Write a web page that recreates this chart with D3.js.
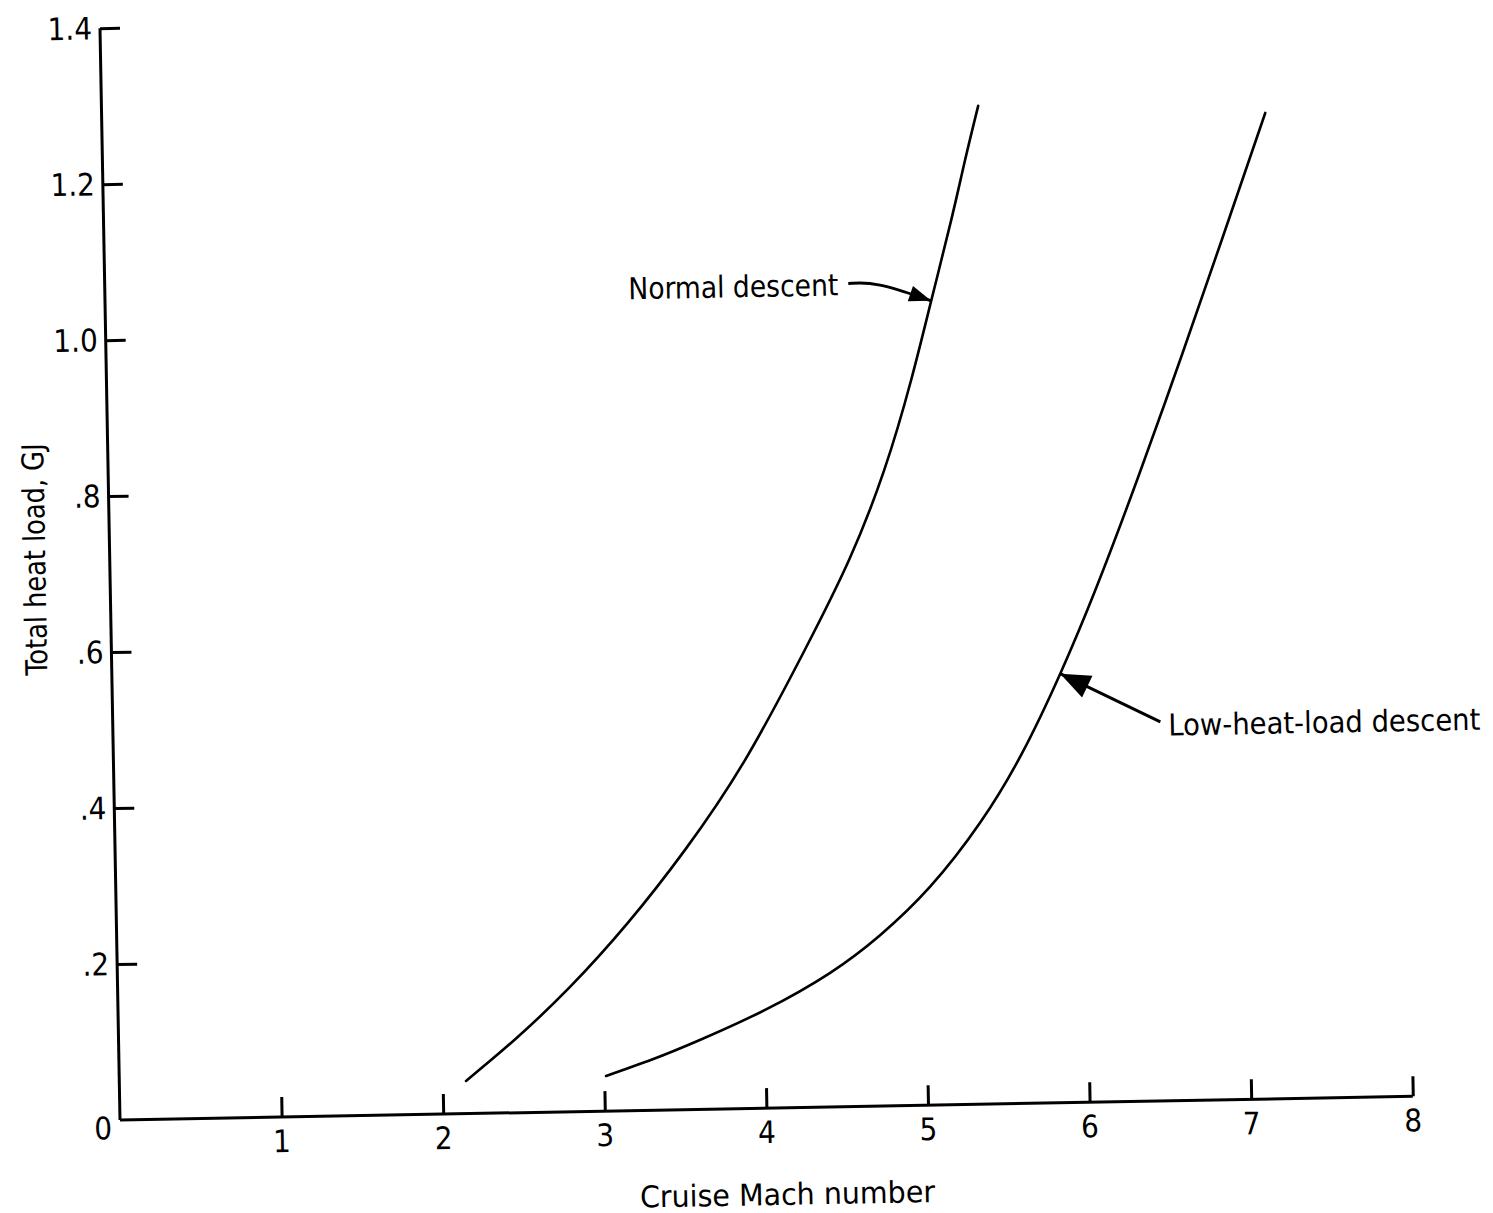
<!DOCTYPE html>
<html>
<head>
<meta charset="utf-8">
<script src="https://cdn.jsdelivr.net/npm/d3@7"></script>
<style>
  body { margin: 0; background: #fff; }
  text { font-family: "DejaVu Sans Condensed", "Liberation Sans Narrow", "Roboto Condensed", "DejaVu Sans", sans-serif; fill: #000; }
</style>
</head>
<body>
<svg id="chart" width="1493" height="1213"></svg>
<script>
// Axis ticks and labels
const machTicks = [1, 2, 3, 4, 5, 6, 7, 8];
const machTickLabels = ["1", "2", "3", "4", "5", "6", "7", "8"];
const loadTicks = [0, 0.2, 0.4, 0.6, 0.8, 1.0, 1.2, 1.4];
const loadTickLabels = ["0", ".2", ".4", ".6", ".8", "1.0", "1.2", "1.4"];

// Total heat load (GJ) versus cruise Mach number
const normalMach = [2.145, 2.447, 2.799, 3.165, 3.526, 3.908, 4.291, 4.574, 4.801, 4.978, 5.111, 5.244, 5.337, 5.424];
const normalLoad = [0.042, 0.093, 0.160, 0.241, 0.333, 0.447, 0.587, 0.701, 0.815, 0.930, 1.031, 1.134, 1.211, 1.280];

const lowHeatMach = [3.012, 3.298, 3.585, 4.003, 4.410, 4.723, 5.038, 5.355, 5.622, 5.867, 6.099, 6.371, 6.658, 6.931, 7.199];
const lowHeatLoad = [0.045, 0.065, 0.088, 0.126, 0.172, 0.219, 0.280, 0.361, 0.449, 0.550, 0.659, 0.800, 0.957, 1.111, 1.264];

// Curve labels: text, label anchor (mach, load) and leader path (mach, load pairs)
const labelTexts = ["Normal descent", "Low-heat-load descent"];
const labelMach = [4.538, 6.53];
const labelLoad = [1.054, 0.482];
const leaderMach = [[4.60, 4.767, 5.111], [6.481, 5.867]];
const leaderLoad = [[1.055, 1.057, 1.031], [0.486, 0.550]];

const svg = d3.select("#chart");

const x = d3.scaleLinear().domain([0, 8]).range([0, 1293]);
const y = d3.scaleLinear().domain([0, 1.4]).range([0, -1092]);

// whole plot sits slightly tilted on the page
const g = svg.append("g").attr("transform", "translate(120,1120) rotate(-1.05)");

// x axis
const xAxis = d3.axisTop(x).tickValues(machTicks).tickSize(20).tickFormat("");
const gx = g.append("g").call(xAxis);
gx.select(".domain").attr("d", `M${x(0)},0H${x(8)}`).attr("stroke", "#000").attr("stroke-width", 3);
gx.selectAll(".tick line").attr("stroke", "#000").attr("stroke-width", 3);

g.append("g").selectAll("text")
  .data(machTicks)
  .join("text")
  .attr("x", d => x(d))
  .attr("y", 35)
  .attr("text-anchor", "middle")
  .attr("font-size", 31)
  .text((d, i) => machTickLabels[i]);

// y axis
const yAxis = d3.axisRight(y).tickValues(loadTicks.filter(v => v > 0)).tickSize(20).tickFormat("");
const gy = g.append("g").call(yAxis);
gy.select(".domain").attr("d", `M0,${y(0)}V${y(1.4)}`).attr("stroke", "#000").attr("stroke-width", 3);
gy.selectAll(".tick line").attr("stroke", "#000").attr("stroke-width", 3);

g.append("g").selectAll("text")
  .data(loadTicks)
  .join("text")
  .attr("x", -8)
  .attr("y", d => y(d) + (d === 0 ? 19 : 11))
  .attr("text-anchor", "end")
  .attr("font-size", 31)
  .text((d, i) => loadTickLabels[i]);

// axis titles
g.append("text")
  .attr("x", 666)
  .attr("y", 97)
  .attr("text-anchor", "middle")
  .attr("font-size", 30)
  .attr("textLength", 295)
  .attr("lengthAdjust", "spacingAndGlyphs")
  .text("Cruise Mach number");

g.append("text")
  .attr("transform", "translate(-75,-562) rotate(-90)")
  .attr("text-anchor", "middle")
  .attr("dy", "0.35em")
  .attr("font-size", 30)
  .attr("textLength", 232)
  .attr("lengthAdjust", "spacingAndGlyphs")
  .text("Total heat load, GJ");

// curves
const line = d3.line()
  .x(d => x(d[0]))
  .y(d => y(d[1]))
  .curve(d3.curveNatural);

const series = [
  d3.zip(normalMach, normalLoad),
  d3.zip(lowHeatMach, lowHeatLoad)
];

g.append("g").selectAll("path")
  .data(series)
  .join("path")
  .attr("d", line)
  .attr("fill", "none")
  .attr("stroke", "#000")
  .attr("stroke-width", 2.6)
  .attr("stroke-linecap", "round");

// labels with leader arrows
const labelWidths = [210, 312];
labelTexts.forEach((t, i) => {
  g.append("text")
    .attr("x", x(labelMach[i]))
    .attr("y", y(labelLoad[i]))
    .attr("dy", "0.36em")
    .attr("text-anchor", i === 0 ? "end" : "start")
    .attr("font-size", 30)
    .attr("textLength", labelWidths[i])
    .attr("lengthAdjust", "spacingAndGlyphs")
    .text(t);

  const pts = leaderMach[i].map((m, k) => [x(m), y(leaderLoad[i][k])]);
  g.append("path")
    .attr("d", d3.line().curve(d3.curveBasis)(pts))
    .attr("fill", "none")
    .attr("stroke", "#000")
    .attr("stroke-width", 3);

  // filled arrowhead at the tip
  const tip = pts[pts.length - 1];
  const prev = pts[pts.length - 2];
  const ang = Math.atan2(tip[1] - prev[1], tip[0] - prev[0]);
  const len = i === 0 ? 22 : 30, half = i === 0 ? 8 : 12;
  const bx = tip[0] - len * Math.cos(ang), by = tip[1] - len * Math.sin(ang);
  const px = -Math.sin(ang) * half, py = Math.cos(ang) * half;
  g.append("path")
    .attr("d", `M${tip[0]},${tip[1]}L${bx + px},${by + py}L${bx - px},${by - py}Z`)
    .attr("fill", "#000");
});
</script>
</body>
</html>
